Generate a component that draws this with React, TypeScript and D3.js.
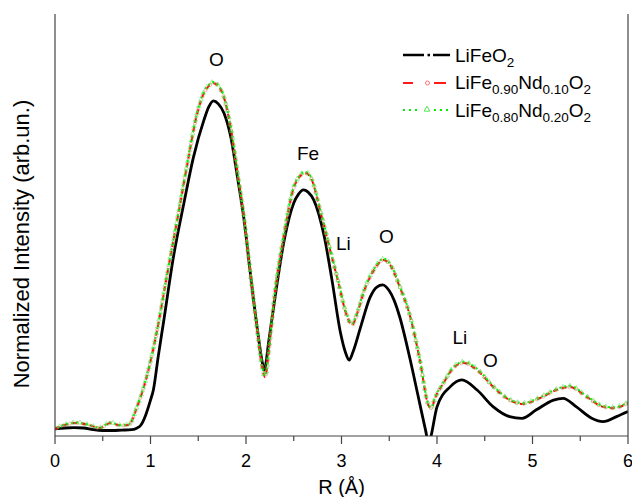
import React, { useEffect, useRef } from "react";
import * as d3 from "d3";

// R (Å)
const rBlack = [0, 0.1, 0.2, 0.3, 0.4, 0.5, 0.6, 0.7, 0.8, 0.85, 0.9, 0.95, 1.0, 1.03, 1.08, 1.14, 1.24, 1.35, 1.45, 1.56, 1.61, 1.66, 1.71, 1.77, 1.84, 1.91, 1.98, 2.05, 2.12, 2.17, 2.19, 2.24, 2.29, 2.4, 2.5, 2.55, 2.6, 2.65, 2.71, 2.82, 2.9, 2.99, 3.04, 3.08, 3.12, 3.2, 3.3, 3.37, 3.43, 3.5, 3.55, 3.61, 3.72, 3.8, 3.88, 3.915, 3.94, 4.0, 4.14, 4.26, 4.42, 4.59, 4.76, 4.89, 5.04, 5.22, 5.32, 5.46, 5.62, 5.74, 5.88, 6.0];
const vLiFeO2 = [0.017, 0.019, 0.02, 0.019, 0.015, 0.013, 0.013, 0.014, 0.015, 0.018, 0.026, 0.05, 0.085, 0.109, 0.187, 0.275, 0.424, 0.552, 0.661, 0.749, 0.78, 0.794, 0.787, 0.765, 0.709, 0.614, 0.512, 0.377, 0.251, 0.175, 0.156, 0.227, 0.306, 0.464, 0.552, 0.573, 0.583, 0.578, 0.559, 0.472, 0.37, 0.244, 0.199, 0.18, 0.199, 0.258, 0.329, 0.353, 0.358, 0.344, 0.322, 0.282, 0.18, 0.097, 0.014, -0.02, 0.002, 0.069, 0.117, 0.133, 0.109, 0.069, 0.046, 0.042, 0.062, 0.085, 0.089, 0.069, 0.042, 0.034, 0.046, 0.058];

const rNd = [0, 0.1, 0.23, 0.35, 0.47, 0.58, 0.68, 0.77, 0.86, 0.96, 1.07, 1.17, 1.28, 1.38, 1.49, 1.56, 1.61, 1.66, 1.71, 1.76, 1.84, 1.91, 1.98, 2.05, 2.12, 2.17, 2.2, 2.24, 2.29, 2.4, 2.5, 2.56, 2.62, 2.68, 2.78, 2.88, 2.96, 3.06, 3.11, 3.17, 3.23, 3.34, 3.44, 3.51, 3.61, 3.72, 3.82, 3.91, 3.94, 3.98, 4.07, 4.17, 4.28, 4.42, 4.59, 4.76, 4.9, 5.08, 5.25, 5.39, 5.57, 5.74, 5.85, 6.0];
const vNd010 = [0.017, 0.026, 0.031, 0.026, 0.019, 0.031, 0.025, 0.026, 0.069, 0.14, 0.251, 0.377, 0.512, 0.637, 0.765, 0.813, 0.829, 0.836, 0.829, 0.808, 0.73, 0.626, 0.517, 0.377, 0.246, 0.161, 0.14, 0.204, 0.315, 0.479, 0.588, 0.614, 0.623, 0.611, 0.531, 0.441, 0.37, 0.282, 0.263, 0.294, 0.339, 0.393, 0.417, 0.405, 0.353, 0.282, 0.18, 0.073, 0.066, 0.09, 0.126, 0.161, 0.173, 0.156, 0.116, 0.085, 0.076, 0.09, 0.109, 0.116, 0.092, 0.069, 0.066, 0.078];
const vNd020 = [0.018, 0.027, 0.032, 0.027, 0.02, 0.032, 0.026, 0.027, 0.071, 0.142, 0.253, 0.379, 0.514, 0.64, 0.768, 0.816, 0.832, 0.839, 0.831, 0.81, 0.733, 0.628, 0.519, 0.379, 0.248, 0.163, 0.142, 0.206, 0.317, 0.482, 0.591, 0.617, 0.626, 0.614, 0.534, 0.444, 0.373, 0.285, 0.266, 0.297, 0.342, 0.396, 0.42, 0.408, 0.356, 0.284, 0.182, 0.075, 0.068, 0.092, 0.128, 0.163, 0.176, 0.159, 0.118, 0.087, 0.078, 0.092, 0.111, 0.119, 0.094, 0.071, 0.068, 0.08];

const xTicks = [0, 1, 2, 3, 4, 5, 6];
const xMinorTicks = [0.5, 1.5, 2.5, 3.5, 4.5, 5.5];

const peakLabels = [
  { text: "O", r: 1.69, v: 0.876 },
  { text: "Fe", r: 2.65, v: 0.653 },
  { text: "Li", r: 3.02, v: 0.441 },
  { text: "O", r: 3.47, v: 0.458 },
  { text: "Li", r: 4.24, v: 0.218 },
  { text: "O", r: 4.56, v: 0.164 },
];

const FONT = "Arial, 'Liberation Sans', sans-serif";

export default function App() {
  const ref = useRef<SVGSVGElement>(null);

  useEffect(() => {
    const svg = d3.select(ref.current);
    svg.selectAll("*").remove();
    const W = 632, H = 497;
    const left = 55, right = 628, top = 14, bottom = 436;
    const x = d3.scaleLinear().domain([0, 6]).range([left, right]);
    const y = d3.scaleLinear().domain([0, 1]).range([bottom, top]);

    svg.append("rect").attr("width", W).attr("height", H).attr("fill", "#fff");

    const defs = svg.append("defs");
    defs.append("clipPath").attr("id", "plotclip").append("rect")
      .attr("x", left).attr("y", top).attr("width", right - left).attr("height", bottom - top);

    const line = (rs: number[], vs: number[]) =>
      d3.line<number>().x((_, i) => x(rs[i])).y((d) => y(d)).curve(d3.curveMonotoneX)(vs) as string;

    const g = svg.append("g").attr("clip-path", "url(#plotclip)");

    g.append("path").attr("d", line(rBlack, vLiFeO2)).attr("fill", "none")
      .attr("stroke", "#000").attr("stroke-width", 2.8).attr("stroke-linejoin", "round");

    const redPath = g.append("path").attr("d", line(rNd, vNd010)).attr("fill", "none")
      .attr("stroke", "#ff0000").attr("stroke-width", 2).attr("stroke-dasharray", "5,4");
    const greenPath = g.append("path").attr("d", line(rNd, vNd020)).attr("fill", "none")
      .attr("stroke", "#00ee00").attr("stroke-width", 2).attr("stroke-dasharray", "2,3").attr("stroke-dashoffset", 3);

    const addMarkers = (p: SVGPathElement, kind: "c" | "t", color: string, offset: number) => {
      const len = p.getTotalLength();
      for (let s = offset; s < len; s += 7) {
        const pt = p.getPointAtLength(s);
        if (kind === "c") {
          g.append("circle").attr("cx", pt.x).attr("cy", pt.y).attr("r", 1.6)
            .attr("fill", "none").attr("stroke", color).attr("stroke-width", 0.8).attr("opacity", 0.6);
        } else {
          const tri = d3.symbol().type(d3.symbolTriangle).size(9)() as string;
          g.append("path").attr("d", tri).attr("transform", `translate(${pt.x},${pt.y})`)
            .attr("fill", "none").attr("stroke", color).attr("stroke-width", 0.8).attr("opacity", 0.6);
        }
      }
    };
    addMarkers(redPath.node() as SVGPathElement, "c", "#ff6060", 2);
    addMarkers(greenPath.node() as SVGPathElement, "t", "#40e040", 5);

    const axisColor = "#444";
    svg.append("line").attr("x1", left).attr("x2", left).attr("y1", top).attr("y2", bottom)
      .attr("stroke", axisColor).attr("stroke-width", 1.2);
    svg.append("line").attr("x1", right).attr("x2", right).attr("y1", top).attr("y2", bottom)
      .attr("stroke", axisColor).attr("stroke-width", 1.2);
    svg.append("line").attr("x1", left).attr("x2", right).attr("y1", bottom).attr("y2", bottom)
      .attr("stroke", axisColor).attr("stroke-width", 1.2);

    xTicks.forEach((t) => {
      svg.append("line").attr("x1", x(t)).attr("x2", x(t)).attr("y1", bottom).attr("y2", bottom + 8)
        .attr("stroke", axisColor).attr("stroke-width", 1.2);
      svg.append("text").attr("x", x(t)).attr("y", bottom + 31).attr("text-anchor", "middle")
        .attr("font-family", FONT).attr("font-size", 18).attr("fill", "#000").text(String(t));
    });
    xMinorTicks.forEach((t) => {
      svg.append("line").attr("x1", x(t)).attr("x2", x(t)).attr("y1", bottom).attr("y2", bottom + 5)
        .attr("stroke", axisColor).attr("stroke-width", 1.2);
    });

    svg.append("text").attr("x", (left + right) / 2).attr("y", 494).attr("text-anchor", "middle")
      .attr("font-family", FONT).attr("font-size", 20).attr("fill", "#000").text("R (Å)");

    svg.append("text").attr("transform", `translate(29,${244}) rotate(-90)`).attr("text-anchor", "middle")
      .attr("font-family", FONT).attr("font-size", 22).attr("fill", "#000").text("Normalized Intensity (arb.un.)");

    peakLabels.forEach((p) => {
      svg.append("text").attr("x", x(p.r)).attr("y", y(p.v)).attr("text-anchor", "middle")
        .attr("font-family", FONT).attr("font-size", 19).attr("fill", "#000").text(p.text);
    });

    // legend
    const lg = svg.append("g");
    const lx0 = 403, lx1 = 450, tx = 455;
    const rows = [61.7, 89.3, 117];
    lg.append("line").attr("x1", lx0).attr("x2", 424).attr("y1", 55).attr("y2", 55).attr("stroke", "#000").attr("stroke-width", 2.5);
    lg.append("rect").attr("x", 427.5).attr("y", 53.8).attr("width", 2.5).attr("height", 2.5).attr("fill", "#000");
    lg.append("line").attr("x1", 433).attr("x2", lx1).attr("y1", 55).attr("y2", 55).attr("stroke", "#000").attr("stroke-width", 2.5);
    lg.append("line").attr("x1", lx0).attr("x2", 413).attr("y1", 83).attr("y2", 83).attr("stroke", "#ff0000").attr("stroke-width", 1.8);
    lg.append("circle").attr("cx", 427.5).attr("cy", 83).attr("r", 2).attr("fill", "none").attr("stroke", "#ff6060").attr("stroke-width", 0.9);
    lg.append("line").attr("x1", 434).attr("x2", 446).attr("y1", 83).attr("y2", 83).attr("stroke", "#ff0000").attr("stroke-width", 1.8);
    lg.append("line").attr("x1", lx0).attr("x2", 420).attr("y1", 110).attr("y2", 110).attr("stroke", "#00ee00").attr("stroke-width", 1.8).attr("stroke-dasharray", "2,4");
    lg.append("path").attr("d", d3.symbol().type(d3.symbolTriangle).size(14)() as string).attr("transform", "translate(427,109.5)")
      .attr("fill", "none").attr("stroke", "#40e040").attr("stroke-width", 0.9);
    lg.append("line").attr("x1", 434).attr("x2", lx1).attr("y1", 110).attr("y2", 110).attr("stroke", "#00ee00").attr("stroke-width", 1.8).attr("stroke-dasharray", "2,4");

    const addFormula = (yb: number, parts: { t: string; sub?: boolean }[]) => {
      const t = lg.append("text").attr("x", tx).attr("y", yb).attr("font-family", FONT).attr("font-size", 19).attr("fill", "#000");
      let prevSub = false;
      parts.forEach((p) => {
        const ts = t.append("tspan").text(p.t);
        if (p.sub) ts.attr("font-size", 13.5);
        if (p.sub && !prevSub) ts.attr("dy", 5);
        else if (!p.sub && prevSub) ts.attr("dy", -5);
        prevSub = !!p.sub;
      });
    };
    addFormula(rows[0], [{ t: "LiFeO" }, { t: "2", sub: true }]);
    addFormula(rows[1], [{ t: "LiFe" }, { t: "0.90", sub: true }, { t: "Nd" }, { t: "0.10", sub: true }, { t: "O" }, { t: "2", sub: true }]);
    addFormula(rows[2], [{ t: "LiFe" }, { t: "0.80", sub: true }, { t: "Nd" }, { t: "0.20", sub: true }, { t: "O" }, { t: "2", sub: true }]);
  }, []);

  return (
    <svg ref={ref} width={632} height={497} style={{ position: "absolute", left: 0, top: 0, display: "block" }} />
  );
}
